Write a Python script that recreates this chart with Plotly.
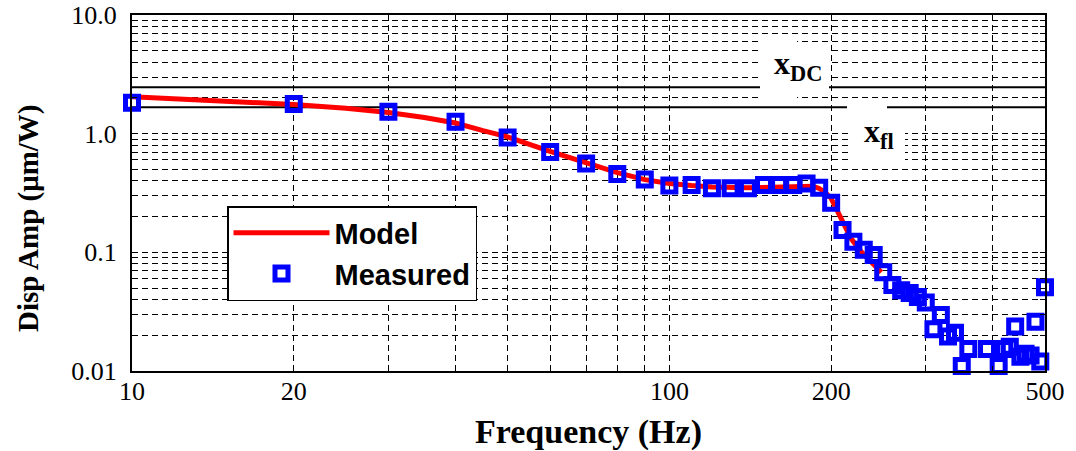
import math
import plotly.graph_objects as go

# ---------------- data ----------------
meas_f = [10, 20, 30, 40, 50, 60, 70, 80, 90, 100, 110, 120, 130, 140, 150, 160, 170, 180, 190, 200,
          210, 220, 230, 240, 250, 260, 270, 280, 290, 300, 310, 320, 330, 340, 350, 360, 390, 410,
          420, 430, 440, 450, 460, 470, 480, 490, 500]
meas_v = [1.82, 1.78, 1.53, 1.26, 0.93, 0.70, 0.56, 0.457, 0.41, 0.365, 0.37, 0.347, 0.347, 0.347, 0.37, 0.37, 0.37, 0.38, 0.35, 0.262,
          0.154, 0.123, 0.105, 0.095, 0.068, 0.053, 0.048, 0.0455, 0.042, 0.0377, 0.0225, 0.0297, 0.0195, 0.021, 0.011, 0.0153, 0.0153, 0.011,
          0.0153, 0.016, 0.0237, 0.0132, 0.014, 0.0135, 0.026, 0.012, 0.0508]

model_f = [10, 12, 15, 20, 25, 30, 35, 40, 45, 50, 60, 70, 80, 90, 100, 110, 120, 140, 160, 170, 180, 185,
           190, 195, 200, 205, 210, 218, 228, 236, 248]
model_v = [2.05, 1.97, 1.88, 1.76, 1.64, 1.51, 1.37, 1.23, 1.06, 0.94, 0.71, 0.57, 0.47, 0.41, 0.38, 0.365, 0.355, 0.35, 0.355, 0.36, 0.365, 0.36,
           0.345, 0.32, 0.285, 0.225, 0.18, 0.13, 0.10, 0.086, 0.068]

x_dc = 2.46
x_fl = 1.67

x_tickvals = [10, 20, 100, 200, 500]
x_ticktext = ["10", "20", "100", "200", "500"]
x_minorvals = [30, 40, 50, 60, 70, 80, 90, 300, 400]
y_tickvals = [0.01, 0.1, 1, 10]
y_ticktext = ["0.01", "0.1", "1.0", "10.0"]
y_minorvals = [0.02, 0.03, 0.04, 0.05, 0.06, 0.07, 0.08, 0.09,
               0.2, 0.3, 0.4, 0.5, 0.6, 0.7, 0.8, 0.9,
               2, 3, 4, 5, 6, 7, 8, 9]

# ---------------- figure ----------------
W, H = 1076, 451
L, R, T, B = 132, 31, 15, 80
PW, PH = W - L - R, H - T - B


def px_x(px):
    return (px - L) / PW


def px_y(py):
    return (H - B - py) / PH


fig = go.Figure()

fig.add_trace(go.Scatter(x=[meas_f[0], meas_f[-1]], y=[x_dc, x_dc], mode="lines",
                         line=dict(color="black", width=2), showlegend=False, hoverinfo="skip"))
fig.add_trace(go.Scatter(x=[meas_f[0], meas_f[-1]], y=[x_fl, x_fl], mode="lines",
                         line=dict(color="black", width=2), showlegend=False, hoverinfo="skip"))

fig.add_trace(go.Scatter(x=model_f, y=model_v, mode="lines", name="Model",
                         line=dict(color="#ff0000", width=5)))
fig.add_trace(go.Scatter(x=meas_f, y=meas_v, mode="markers", name="Measured", cliponaxis=False,
                         marker=dict(symbol="square-open", size=13, color="#0000ff",
                                     line=dict(color="#0000ff", width=5))))

serif = "Liberation Serif"
grid_style = dict(showgrid=True, gridcolor="black", gridwidth=1, griddash="6px,4px",
                  ticks="inside", ticklen=5, tickcolor="black", tickwidth=1)
axis_common = dict(
    showline=True, linecolor="black", linewidth=2, mirror="allticks",
    tickfont=dict(family=serif, size=26, color="black"),
    zeroline=False, automargin=False, **grid_style,
)

x_lo = math.log10(meas_f[0]) - 1e-6
x_hi = math.log10(meas_f[-1]) + 1e-6
fig.update_xaxes(type="log", range=[x_lo, x_hi], tickmode="array",
                 tickvals=x_tickvals, ticktext=x_ticktext, ticklabelstandoff=-4,
                 minor=dict(tickmode="array", tickvals=x_minorvals, **grid_style),
                 title=dict(text="<b>Frequency (Hz)</b>", font=dict(family=serif, size=34, color="black"),
                            standoff=14),
                 **axis_common)
fig.update_yaxes(type="log", range=[-2, 1], tickmode="array",
                 tickvals=y_tickvals, ticktext=y_ticktext, ticklabelstandoff=8,
                 minor=dict(tickmode="array", tickvals=y_minorvals, **grid_style),
                 **axis_common)

# y-axis title as a rotated text centred on the plot
fig.add_annotation(xref="paper", yref="paper", x=px_x(28), y=px_y(218), xanchor="center", yanchor="middle",
                   text="<b>Disp Amp (μm/W)</b>", textangle=-90, showarrow=False,
                   font=dict(family=serif, size=29, color="black"))

# white boxes behind the line labels
for (x0, x1, y0, y1) in [(760, 797, 36, 100), (797, 829, 44, 93), (847, 887, 102, 112), (848, 905, 127, 163)]:
    fig.add_shape(type="rect", xref="paper", yref="paper", layer="above",
                  x0=px_x(x0), x1=px_x(x1), y0=px_y(y1), y1=px_y(y0),
                  fillcolor="white", line=dict(width=0))

fig.add_annotation(xref="paper", yref="paper", x=px_x(772), y=px_y(66), xanchor="left", yanchor="middle",
                   text="<b>x<sub>DC</sub></b>", showarrow=False,
                   font=dict(family=serif, size=32, color="black"))
fig.add_annotation(xref="paper", yref="paper", x=px_x(862), y=px_y(133), xanchor="left", yanchor="middle",
                   text="<b>x<sub>fl</sub></b>", showarrow=False,
                   font=dict(family=serif, size=32, color="black"))

fig.update_layout(
    width=W, height=H,
    margin=dict(l=L, r=R, t=T, b=B),
    paper_bgcolor="white", plot_bgcolor="white",
    legend=dict(x=px_x(227), y=px_y(206), xanchor="left", yanchor="top",
                bgcolor="white", bordercolor="black", borderwidth=1.5,
                font=dict(family="Liberation Sans", size=29, color="black", weight="bold"),
                itemwidth=96, tracegroupgap=0),
)

fig.write_html("out.html")
